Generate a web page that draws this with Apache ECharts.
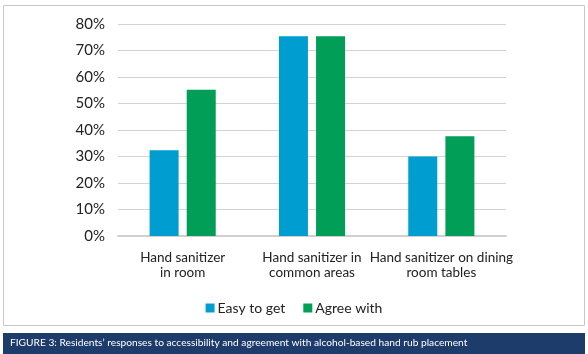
<!DOCTYPE html>
<html><head><meta charset="utf-8">
<script src="https://cdn.jsdelivr.net/npm/echarts@6/dist/echarts.min.js"></script>
<style>html,body{margin:0;padding:0;background:#fff}#c{width:588px;height:354px}</style>
</head><body><div id="c"></div>
<script>
var categories = ['Hand sanitizer\nin room', 'Hand sanitizer in\ncommon areas', 'Hand sanitizer on dining\nroom tables'];
var easyToGet = [32.4, 75.4, 30];
var agreeWith = [55.2, 75.4, 37.6];
var yTicks = [0, 10, 20, 30, 40, 50, 60, 70, 80];
var caption = 'FIGURE 3: Residents\u2019 responses to accessibility and agreement with alcohol-based hand rub placement';
var FONT = 'Lato';
var chart = echarts.init(document.getElementById('c'));
chart.setOption({
  backgroundColor: '#fff',
  animation: false,
  textStyle: {fontFamily: FONT},
  grid: {left: 118, right: 82, top: 24, bottom: 118, containLabel: false},
  legend: {
    data: ['Easy to get', 'Agree with'],
    bottom: 34, left: 'center',
    itemWidth: 9, itemHeight: 9, itemGap: 18,
    icon: 'rect',
    textStyle: {fontSize: 14, color: '#222', fontFamily: FONT, padding: [0,0,0,-2]}
  },
  xAxis: {
    type: 'category', data: categories,
    axisTick: {show: false},
    axisLine: {lineStyle: {color: '#cfcfcf', width: 2}},
    axisLabel: {fontSize: 13.5, color: '#222', lineHeight: 15, margin: 14, fontFamily: FONT, interval: 0}
  },
  yAxis: {
    type: 'value', min: 0, max: 80, interval: 10,
    axisLabel: {formatter: function(v){return yTicks.indexOf(v) >= 0 ? v + '%' : '';}, fontSize: 15, color: '#222', margin: 13, fontFamily: FONT},
    splitLine: {lineStyle: {color: '#d3d3d3', width: 1}},
    axisLine: {show: false}, axisTick: {show: false}
  },
  series: [
    {name: 'Easy to get', type: 'bar', data: easyToGet, barWidth: 29, barGap: '28%', itemStyle: {color: '#009dd1'}},
    {name: 'Agree with', type: 'bar', data: agreeWith, barWidth: 29, itemStyle: {color: '#009e57'}}
  ],
  graphic: [
    {type: 'rect', shape: {x: 3.5, y: 5.5, width: 581, height: 320}, style: {fill: 'none', stroke: '#c8c8c8', lineWidth: 1}, z: -1},
    {type: 'rect', shape: {x: 3, y: 333, width: 582, height: 21}, style: {fill: '#1e3c6b'}},
    {type: 'text', left: 10, top: 338, style: {text: caption, fill: '#fff', fontSize: 10.2, fontFamily: FONT}}
  ]
});
</script></body></html>
